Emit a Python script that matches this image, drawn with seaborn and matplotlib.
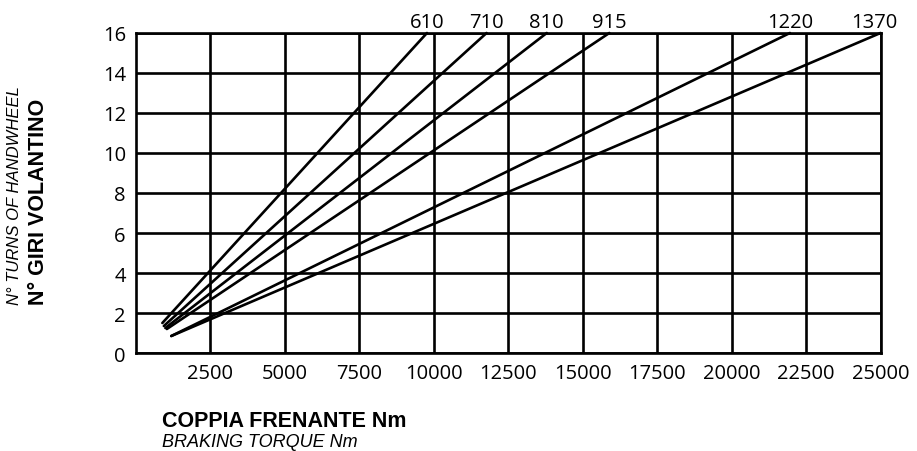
import pandas as pd
import matplotlib
matplotlib.use("Agg")
import matplotlib.pyplot as plt
import seaborn as sns

# handwheel sizes and the two ends of each straight curve
sizes = ["610", "710", "810", "915", "1220", "1370"]
start_torque = [900, 950, 1000, 1050, 1200, 1200]
start_turns = [1.5, 1.35, 1.25, 1.2, 0.85, 0.85]
end_torque = [9780, 11780, 13800, 15900, 21960, 25000]
end_turns = [16, 16, 16, 16, 16, 16]

x_ticks = [2500, 5000, 7500, 10000, 12500, 15000, 17500, 20000, 22500, 25000]
y_ticks = [0, 2, 4, 6, 8, 10, 12, 14, 16]

rows = []
for s, x0, y0, x1, y1 in zip(sizes, start_torque, start_turns, end_torque, end_turns):
    rows.append({"size": s, "torque": x0, "turns": y0})
    rows.append({"size": s, "torque": x1, "turns": y1})
df = pd.DataFrame(rows)

sns.set_theme(style="white")
plt.rcParams["font.family"] = ["Open Sans", "DejaVu Sans"]

fig = plt.figure(figsize=(9.17, 4.52), dpi=100)
ax = fig.add_axes([0.1478, 0.2168, 0.8124, 0.708])

ax.set_xlim(0, 25000)
ax.set_ylim(0, 16)
ax.set_xticks(x_ticks)
ax.set_yticks(y_ticks)
ax.grid(True, color="black", linewidth=1.9)
ax.set_axisbelow(True)
for sp in ax.spines.values():
    sp.set_color("black")
    sp.set_linewidth(1.9)
ax.tick_params(length=0, labelsize=14.5, colors="black", pad=7)

sns.lineplot(data=df, x="torque", y="turns", hue="size", units="size",
             estimator=None, palette=["black"] * len(sizes), linewidth=1.9,
             legend=False, ax=ax, clip_on=False, zorder=3)

for s, x1, y1 in zip(sizes, end_torque, end_turns):
    xx = x1 if x1 < 25000 else x1 - 200
    ax.annotate(s, (xx, y1), xytext=(0, 1), textcoords="offset points",
                ha="center", va="bottom", fontsize=14.5, color="black")

ax.set_xlabel("")
ax.set_ylabel("")

fig.text(0.0425, 0.325, "N° GIRI VOLANTINO", rotation=90, ha="center", va="bottom",
         fontsize=15.5, fontweight="bold", family="Liberation Sans", color="black")
fig.text(0.0153, 0.325, "N° TURNS OF HANDWHEEL", rotation=90, ha="center", va="bottom",
         fontsize=12, style="italic", family="Liberation Sans", color="black")
fig.text(0.1767, 0.0664, "COPPIA FRENANTE Nm", ha="left", va="center",
         fontsize=15.5, fontweight="bold", family="Liberation Sans", color="black")
fig.text(0.1767, 0.0221, "BRAKING TORQUE Nm", ha="left", va="center",
         fontsize=13, style="italic", family="Liberation Sans", color="black")

fig.savefig("out.png", dpi=100)
